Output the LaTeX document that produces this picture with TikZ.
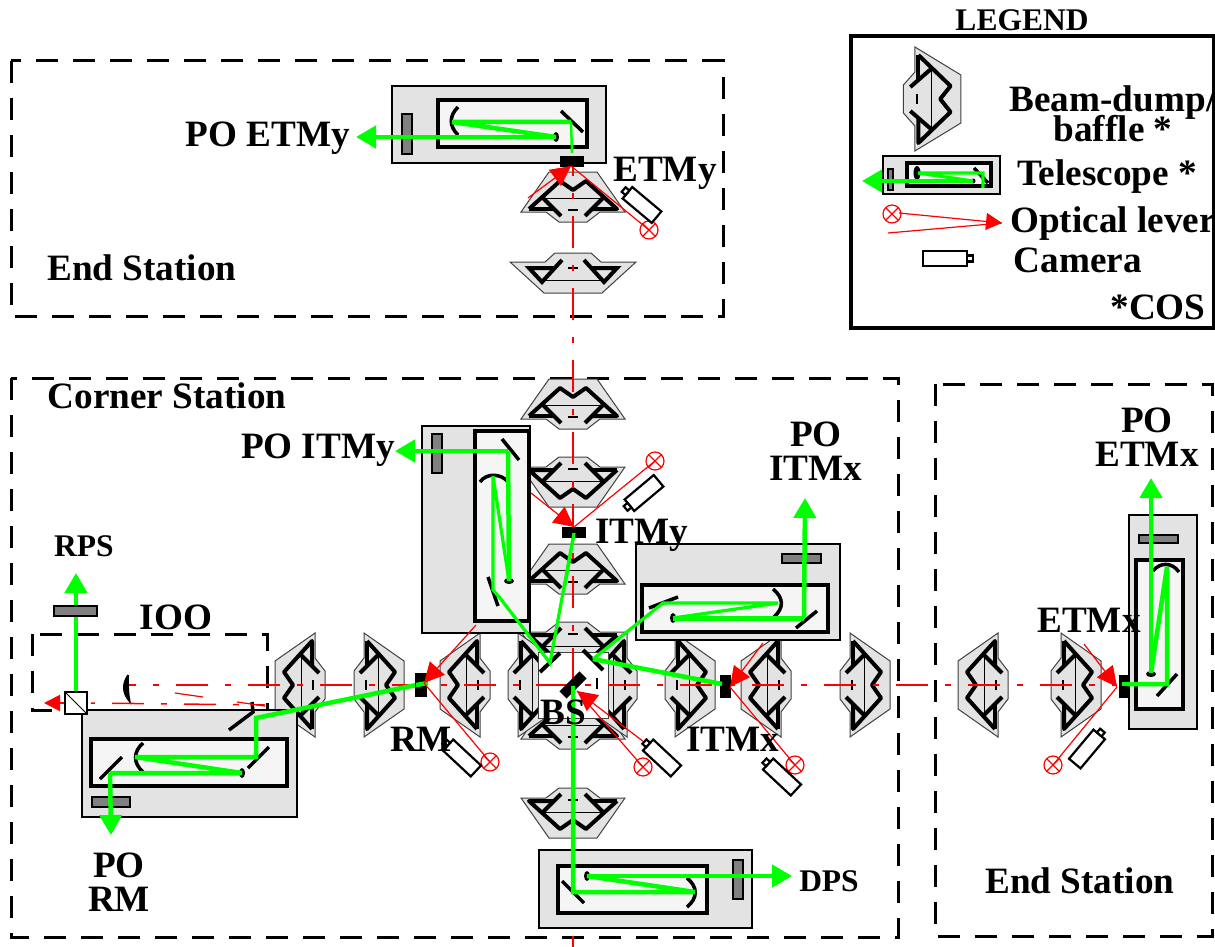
\documentclass[tikz,border=0pt]{standalone}
\usepackage{fontspec}
\setmainfont{Liberation Serif}
\usetikzlibrary{arrows.meta}
\tikzset{
    framebox/.style={draw,line width=3,dash pattern=on 22 off 15},
    scopebox/.style={draw,fill=black!11,line width=2.4},
    tubebox/.style={draw,fill=black!4,line width=3.2},
    filterbar/.style={draw,fill=black!50,line width=1.8},
    mirror/.style={draw,line width=3.5},
    beam/.style={draw=green,line width=4.5},
    thinbeam/.style={draw=green,line width=2.5},
    axisline/.style={draw=red,line width=2,dash pattern=on 32 off 17 on 6 off 17,dash phase=21},
    lever/.style={draw=red,line width=1.2},
    redhead/.style={-{Triangle[length=20pt,width=20pt,fill=red]}},
    greenhead/.style={-{Triangle[length=20pt,width=22pt,fill=green]}},
    lbl/.style={font=\fontsize{37.2}{34}\selectfont\bfseries,align=center,inner sep=0},
    lblsm/.style={font=\fontsize{31.5}{31}\selectfont\bfseries,align=center,inner sep=0},
    pics/baffle/.style={code={
        \draw[fill=black!11,draw=black!75,line width=1] (-24,-26) -- (24,-26) -- (52,14) -- (27,14) -- (14,24) -- (-14,24) -- (-27,14) -- (-52,14) -- cycle;
        \draw[line width=1] (-28,0) -- (28,0);
        \draw[line width=4,line join=round] (-44,11) -- (-13,-17) -- (0,-8) -- (13,-17) -- (44,11) -- (19,11);
        \draw[line width=4] (-44,11) -- (-19,11);
        \draw[line width=4] (-31,-1) -- (-12,18);
        \draw[line width=4] (31,-1) -- (12,18);
        \draw[line width=1.7] (-5,12) -- (5,12);
    }},
    pics/camera/.style={code={
        \draw[fill=white,line width=2.2] (-19,-7.5) rectangle (19,7.5);
        \draw[fill=white,line width=2.2] (-19,-3) rectangle (-24,3);
    }},
    pics/lamp/.style={code={
        \draw[lever] (0,0) circle (9);
        \draw[lever] (-6.4,-6.4) -- (6.4,6.4);
        \draw[lever] (-6.4,6.4) -- (6.4,-6.4);
    }},
}
\begin{document}
\begin{tikzpicture}[x=1pt,y=-1pt]
\useasboundingbox (0,0) rectangle (1215,947);
%frames
\path[framebox] (11,61) rectangle (723,316);
\path[framebox] (11,378) rectangle (898,937);
\path[framebox] (935,384) rectangle (1212,936);
\path[framebox] (32,634) rectangle (267,710);
\draw[line width=3.5] (851,36) rectangle (1214,328);
%baffles
\foreach \x/\y/\r in {573/198/0, 573/405/0, 573/481/180, 573/570/0, 573/646/180, 573/725/0, 573/812/180,
    301/685/90, 378/685/-90, 466/685/90, 532/685/-90, 613/685/90, 689/685/-90, 767/685/90, 864/685/-90, 984/685/90, 1075/685/-90}{
    \pic[rotate=\r] at (\x,\y) {baffle};
}
\begin{scope}[shift={(573,272)}]
    \draw[fill=black!11,draw=black!75,line width=1] (-18,-19) -- (18,-19) -- (28,-10) -- (63,-10) -- (29,21) -- (-29,21) -- (-63,-10) -- (-28,-10) -- cycle;
    \draw[line width=1] (-31,8) -- (31,8);
    \draw[line width=4] (-19,-4) -- (-44,-4) -- (-31,10) -- (-11,-12);
    \draw[line width=4] (19,-4) -- (44,-4) -- (31,10) -- (11,-12);
    \draw[line width=1.7] (-5,-4) -- (5,-4);
\end{scope}
%centre of the four baffles
\draw[fill=white,draw=black!75,line width=1] (538,652) rectangle (608,718);
\draw[line width=4] (540,672) -- (560,653);
\draw[line width=4] (583,650) -- (603,670);
\draw[line width=1.7] (597,678) -- (597,689);
%red axes
\path[axisline] (125,685) -- (1117,685);
\path[axisline] (573,165) -- (573,947);
%telescope ETMy
\path[scopebox] (392,86) rectangle (606,163);
\path[tubebox] (438,100) rectangle (587,147);
\path[filterbar] (402,114) rectangle (412,154);
\path[mirror] (561,111) -- (583,132);
\path[mirror] (458,107) .. controls (449,116) and (449,126) .. (458,135);
\fill (556,137) ellipse (3 and 5);
\draw[thinbeam] (571,122) -- (572,153);
\draw[beam,greenhead] (556,137) -- (356,137);
\draw[beam] (556,137) -- (452,122) -- (571,122);
%telescope ITMy
\path[scopebox] (422,426) rectangle (530,633);
\path[tubebox] (475,431) rectangle (529,621);
\path[filterbar] (432,434) rectangle (442,473);
\path[mirror] (502,439) -- (519,460);
\path[mirror] (488,577) -- (498,606);
\path[mirror] (480,482) .. controls (486,473) and (501,473) .. (508,482);
\fill (509,581) ellipse (5 and 3);
\draw[beam,greenhead] (508,451) -- (395,451);
\draw[beam] (508,451) -- (509,581);
\draw[beam,line width=3.2] (509,581) -- (493,476) -- (493,590) -- (500,598) -- (550,663) -- (574,533);
%telescope ITMx
\path[scopebox] (636,544) rectangle (840,640);
\path[tubebox] (642,585) rectangle (828,632);
\path[filterbar] (782,554) rectangle (821,563);
\path[mirror] (649,608) -- (678,597);
\path[mirror] (796,628) -- (817,611);
\path[mirror] (773,589) .. controls (784,598) and (784,608) .. (774,617);
\fill (673,618) ellipse (3 and 5);
\draw[beam,line width=5] (673,618) -- (804,618);
\draw[beam,greenhead] (804,618) -- (805,498);
\draw[beam,line width=3.2] (673,618) -- (778,603) -- (663,603) -- (593,659);
\draw[beam] (593,659) -- (722,684);
%telescope RM
\path[scopebox] (82,710) rectangle (297,817);
\path[tubebox] (91,739) rectangle (287,786);
\path[filterbar] (92,797) rectangle (130,807);
\path[mirror] (100,779) -- (122,757);
\path[mirror] (248,768) -- (269,747);
\path[mirror] (229,730) -- (253,712) -- (252,702);
\path[mirror] (143,743) .. controls (133,752) and (133,763) .. (143,772);
\fill (242,773) ellipse (3 and 5);
\draw[beam] (421,684) -- (256,718) -- (256,757) -- (135,757) -- (242,773) -- (110,773);
\draw[beam,greenhead] (110,773) -- (111,835);
%telescope DPS
\path[scopebox] (539,850) rectangle (752,928);
\path[tubebox] (558,866) rectangle (707,913);
\path[filterbar] (733,860) rectangle (743,899);
\path[mirror] (562,881) -- (584,903);
\path[mirror] (687,878) .. controls (698,887) and (698,898) .. (687,907);
\fill (587,876) ellipse (3 and 5);
\draw[beam] (573,692) -- (573,892) -- (695,892) -- (587,876);
\draw[beam,greenhead] (587,876) -- (792,876);
%telescope ETMx
\path[scopebox] (1129,515) rectangle (1197,729);
\path[tubebox] (1136,560) rectangle (1183,709);
\path[filterbar] (1139,535) rectangle (1178,543);
\path[mirror] (1157,696) -- (1177,674);
\path[mirror] (1153,571) .. controls (1160,562) and (1172,562) .. (1179,572);
\fill (1151,674) ellipse (5 and 3);
\draw[beam] (1128,684) -- (1167,684) -- (1167,567) -- (1151,673);
\draw[beam,greenhead] (1151,673) -- (1151,478);
%IOO
\draw[red,line width=2,-{Triangle[length=16pt,width=16pt,fill=red]}] (65,703) -- (44,703);
\draw[beam,greenhead] (76,692) -- (76,573);
\path[filterbar] (54,606) rectangle (97,616);
\draw[fill=white,line width=2.2] (65,692) rectangle (87,714);
\draw[line width=1] (65,692) -- (87,714);
\draw[fill=black,line width=1.5] (128,675) .. controls (122,684) and (122,693) .. (130,702) .. controls (128,693) and (128,684) .. (128,675);
\draw[red,line width=1.5,dash pattern=on 32 off 17 on 6 off 17,dash phase=51] (91,703) -- (265,705);
\draw[red,line width=1.2] (175,693) -- (203,697);
\draw[red,line width=1.2] (237,702) -- (265,706);
%test masses
\foreach \xa/\ya/\xb/\yb in {560/156/584/167, 562/527/586/538, 720/675/731/698, 415/673/427/697, 1119/675/1128/698}{
    \fill (\xa,\ya) rectangle (\xb,\yb);
}
\draw[line width=10] (563,695) -- (583,675);
%repeat the green over the test masses
\draw[beam,line width=3.2] (574,533) -- (565,585);
\draw[beam] (416,685) -- (428,683);
\draw[beam] (717,683) -- (722,684);
\draw[beam] (1122,684) -- (1128,684);
\draw[beam] (573,686) -- (573,700);
%optical levers
\foreach \xa/\ya/\xb/\yb/\xc/\yc in {528/198/571/166/649/230, 531/493/574/527/655/461, 648/745/577/691/643/767, 763/643/730/687/795/765, 476/625/424/683/490/762, 1084/644/1117/687/1053/765}{
    \draw[lever,redhead] (\xa,\ya) -- (\xb,\yb);
    \draw[lever] (\xb,\yb) -- (\xc,\yc);
    \pic at (\xc,\yc) {lamp};
}
%cameras
\foreach \x/\y/\r in {642/205/-40, 644/493/40, 662/758/-43, 782/777/-43, 462/758/-43, 1087/749/-130}{
    \pic[rotate=\r] at (\x,\y) {camera};
}
%legend
\pic[rotate=-90,yscale=1.15] at (931,99) {baffle};
\path[scopebox] (883,156) rectangle (1000,194);
\path[tubebox,fill=black!4] (907,163) rectangle (991,186);
\path[filterbar,line width=1.2] (888,169) rectangle (893,190);
\path[mirror] (974,168) -- (988,183);
\fill (917,173) ellipse (3.5 and 7);
\fill (973,181) circle (2.5);
\draw[beam,greenhead] (973,181) -- (862,181);
\draw[beam,line width=3.2] (973,181) -- (918,173) -- (983,173) -- (983,188);
\pic at (892,214) {lamp};
\draw[lever,-{Triangle[length=16pt,width=17pt,fill=red]}] (899,213) -- (1002,223);
\draw[lever] (1002,223) -- (888,233);
\pic[rotate=180,xscale=1.15] at (945,258.5) {camera};
%labels
\node[lblsm] (lblLegend) at (1022,20) {LEGEND};
\node[lbl] (lblBaffle) at (1113,113.5) {Beam-dump/\\[-5pt]baffle *};
\node[lbl] (lblScope) at (1107,177) {Telescope *};
\node[lbl,anchor=west] (lblLever) at (1010,224) {Optical lever};
\node[lbl] (lblCamera) at (1078,260) {Camera};
\node[lbl] (lblCos) at (1158,307) {*COS};
\node[lbl] (lblPOETMy) at (268,138) {PO ETMy};
\node[lbl] (lblETMy) at (665,173) {ETMy};
\node[lbl] (lblEndY) at (142,268) {End Station};
\node[lbl] (lblCorner) at (167,396) {Corner Station};
\node[lbl] (lblPOITMy) at (318,450) {PO ITMy};
\node[lbl] (lblPOITMx) at (816,451) {PO\\ITMx};
\node[lbl] (lblITMy) at (642,535) {ITMy};
\node[lblsm] (lblRPS) at (84,546) {RPS};
\node[lbl] (lblIOO) at (176,617) {IOO};
\node[lbl] (lblRM) at (421,739) {RM};
\node[lbl] (lblBS) at (563,712) {BS};
\node[lbl] (lblITMx) at (733,739) {ITMx};
\node[lbl] (lblPORM) at (119,882) {PO\\RM};
\node[lblsm] (lblDPS) at (829,881) {DPS};
\node[lbl] (lblEndX) at (1080,881) {End Station};
\node[lbl] (lblPOETMx) at (1147,437) {PO\\ETMx};
\node[lbl] (lblETMx) at (1089,620) {ETMx};
\end{tikzpicture}
\end{document}
